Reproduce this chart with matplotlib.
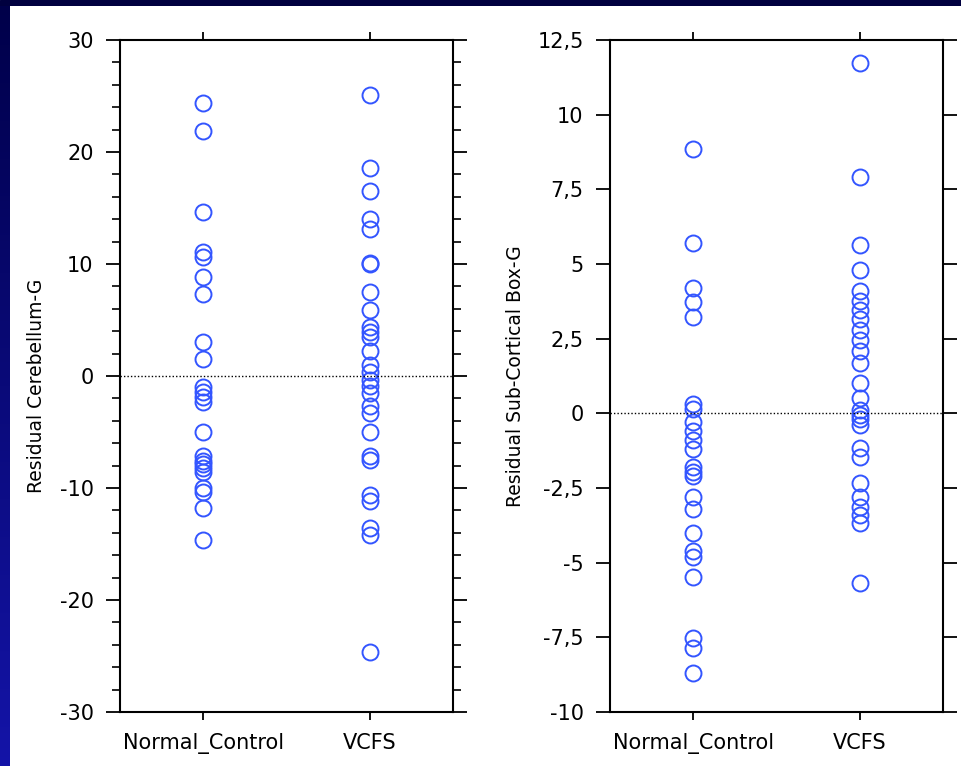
import matplotlib
matplotlib.use("Agg")
import matplotlib.pyplot as plt
import numpy as np
from matplotlib.ticker import MultipleLocator, FixedLocator
from matplotlib.colors import LinearSegmentedColormap

groups = ["Normal_Control", "VCFS"]

# Residual Cerebellum-G
cereb_nc = [24.4, 21.9, 14.6, 11.1, 10.6, 8.8, 7.3, 3.0, 1.5, -1.0, -1.4, -1.9,
            -2.3, -5.0, -7.1, -7.6, -7.9, -8.2, -8.6, -10.0, -10.4, -11.8, -14.6]
cereb_vcfs = [25.1, 18.6, 16.5, 14.0, 13.1, 10.1, 10.0, 7.5, 5.9, 4.4, 3.9, 3.5,
              2.2, 1.0, 0.4, -0.4, -0.9, -1.5, -2.7, -3.3, -5.0, -7.1, -7.5,
              -10.6, -11.2, -13.6, -14.2, -24.6]

# Residual Sub-Cortical Box-G
sub_nc = [8.84, 5.71, 4.19, 3.74, 3.21, 0.3, 0.15, -0.3, -0.6, -0.9, -1.2, -1.8,
          -1.95, -2.1, -2.8, -3.2, -4.0, -4.6, -4.8, -5.47, -7.52, -7.86, -8.7]
sub_vcfs = [11.74, 7.9, 5.63, 4.8, 4.1, 3.75, 3.45, 3.15, 2.8, 2.45, 2.1, 1.67,
            1.0, 0.5, 0.1, -0.05, -0.2, -0.4, -1.17, -1.45, -2.34, -2.79, -3.13,
            -3.4, -3.68, -5.69]

plt.rcParams['font.family'] = ['DejaVu Sans']

W, H = 961, 766
fig = plt.figure(figsize=(W / 100, H / 100), dpi=100, facecolor='white')

# slide background: navy strip on top, blue gradient on the left
top = fig.add_axes([0, 1 - 6 / H, 1, 6 / H])
top.axis('off')
top.add_patch(plt.Rectangle((0, 0), 1, 1, color='#00003f', transform=top.transAxes))
left = fig.add_axes([0, 0, 10 / W, 1 - 6 / H])
grad = np.linspace(0, 1, 256).reshape(-1, 1)
cm = LinearSegmentedColormap.from_list('bg', ['#00004a', '#1414a8'])
left.imshow(grad, aspect='auto', cmap=cm, extent=[0, 1, 0, 1], origin='upper')
left.axis('off')

blue = '#3355ff'


def panel(rect, nc, vcfs, ylim, major, minor, ylabel, fmt, lab_x, lab_y):
    ax = fig.add_axes(rect)
    ax.plot(np.zeros(len(nc)), nc, 'o', mfc='none', mec=blue, ms=11.5, mew=1.4, ls='none')
    ax.plot(np.ones(len(vcfs)), vcfs, 'o', mfc='none', mec=blue, ms=11.5, mew=1.4, ls='none')
    ax.axhline(0, color='black', ls=(0, (1, 1.5)), lw=1)
    ax.set_xlim(-0.5, 1.5)
    ax.set_ylim(*ylim)
    ax.xaxis.set_major_locator(FixedLocator([0, 1]))
    ax.set_xticklabels(groups, fontsize=15)
    ax.yaxis.set_major_locator(MultipleLocator(major))
    if minor:
        ax.yaxis.set_minor_locator(MultipleLocator(minor))
    ax.yaxis.set_major_formatter(plt.FuncFormatter(fmt))
    ax.tick_params(axis='y', which='major', length=10, width=1.3, labelsize=15,
                   left=True, right=True, direction='out', pad=9)
    ax.tick_params(axis='y', which='minor', length=6, width=1.2, left=True, right=True)
    ax.tick_params(axis='x', length=6, width=1.3, top=True, bottom=True, pad=9)
    for s in ax.spines.values():
        s.set_linewidth(1.5)
    ax.set_ylabel(ylabel, fontsize=13.5)
    ax.yaxis.set_label_coords(lab_x, lab_y)
    return ax


def fmt_int(v, p):
    return f"{v:.0f}"


def fmt_comma(v, p):
    return f"{v:g}".replace('.', ',')


panel([120 / W, 1 - 712 / H, 333 / W, 672 / H], cereb_nc, cereb_vcfs,
      (-30, 30), 10, 2, 'Residual Cerebellum-G', fmt_int, -0.222, 0.485)
panel([610 / W, 1 - 712 / H, 333 / W, 672 / H], sub_nc, sub_vcfs,
      (-10, 12.5), 2.5, None, 'Residual Sub-Cortical Box-G', fmt_comma, -0.255, 0.5)

fig.savefig('out.png', dpi=100, facecolor='white')
